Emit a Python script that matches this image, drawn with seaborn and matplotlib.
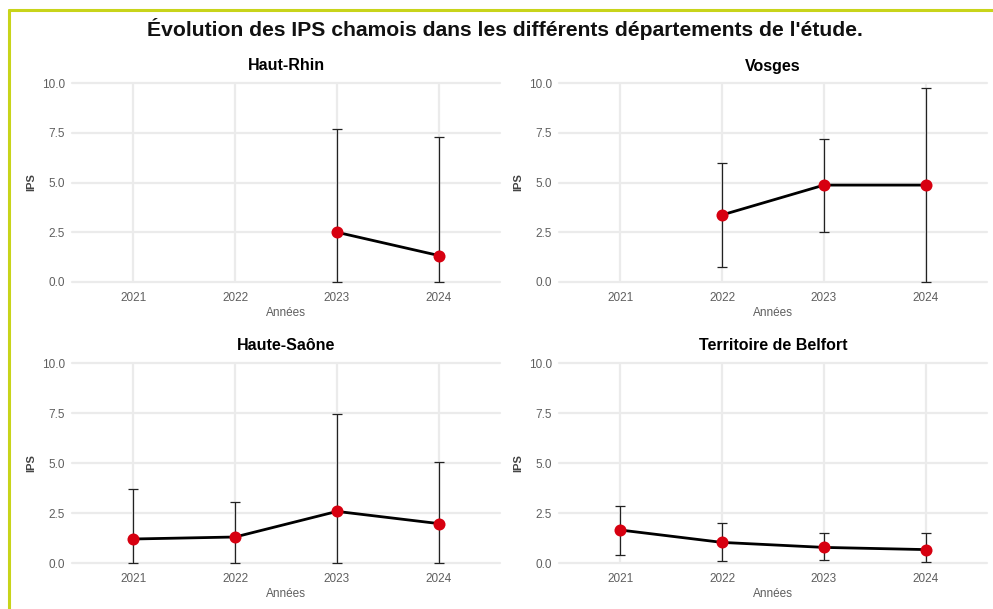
import numpy as np
import pandas as pd
import matplotlib
matplotlib.use("Agg")
import matplotlib.pyplot as plt
from matplotlib.lines import Line2D
import seaborn as sns

# values (NaN = no survey that year)
years = [2021, 2022, 2023, 2024]
departements = ["Haut-Rhin", "Vosges", "Haute-Saône", "Territoire de Belfort"]

ips_haut_rhin = [np.nan, np.nan, 2.5, 1.33]
low_haut_rhin = [np.nan, np.nan, 0.0, 0.0]
high_haut_rhin = [np.nan, np.nan, 7.7, 7.3]

ips_vosges = [np.nan, 3.37, 4.87, 4.87]
low_vosges = [np.nan, 0.73, 2.53, 0.0]
high_vosges = [np.nan, 6.0, 7.17, 9.73]

ips_haute_saone = [1.2, 1.3, 2.58, 1.97]
low_haute_saone = [0.0, 0.0, 0.0, 0.0]
high_haute_saone = [3.7, 3.03, 7.45, 5.03]

ips_belfort = [1.65, 1.03, 0.78, 0.67]
low_belfort = [0.42, 0.08, 0.17, 0.05]
high_belfort = [2.87, 2.0, 1.5, 1.5]

series = {
    "Haut-Rhin": (ips_haut_rhin, low_haut_rhin, high_haut_rhin),
    "Vosges": (ips_vosges, low_vosges, high_vosges),
    "Haute-Saône": (ips_haute_saone, low_haute_saone, high_haute_saone),
    "Territoire de Belfort": (ips_belfort, low_belfort, high_belfort),
}

rows = []
for dep in departements:
    ips, lo, hi = series[dep]
    for y, v, l, h in zip(years, ips, lo, hi):
        rows.append({"departement": dep, "annee": y, "ips": v, "low": l, "high": h})
df = pd.DataFrame(rows).dropna()

sns.set_theme(style="whitegrid")
plt.rcParams["font.family"] = ["Liberation Sans", "DejaVu Sans"]

GRID = "#ebebeb"
TICK = "#5f5f5f"
RED = "#d70010"

fig = plt.figure(figsize=(9.93, 6.09), dpi=100)

W, H = 993, 609
boxes = [(72, 83, 500, 282), (559, 83, 987, 282),
         (72, 363, 500, 563), (559, 363, 987, 563)]

for dep, (x0, y0, x1, y1) in zip(departements, boxes):
    ax = fig.add_axes([x0 / W, 1 - y1 / H, (x1 - x0) / W, (y1 - y0) / H])
    d = df[df["departement"] == dep]

    eb = ax.errorbar(d["annee"], d["ips"],
                     yerr=[d["ips"] - d["low"], d["high"] - d["ips"]],
                     fmt="none", ecolor="#222222", elinewidth=0.9, capsize=3.5,
                     capthick=0.9, zorder=2)
    for art in eb.lines[1] + eb.lines[2]:
        art.set_clip_on(False)
    sns.lineplot(data=d, x="annee", y="ips", color="black", linewidth=2,
                 ax=ax, zorder=3)
    sns.scatterplot(data=d, x="annee", y="ips", color=RED, s=75,
                    edgecolor=RED, linewidth=0, ax=ax, zorder=4)

    ax.set_xlim(2020.4, 2024.6)
    ax.set_ylim(0, 10)
    ax.set_xticks(years)
    ax.set_xticklabels([str(y) for y in years])
    ax.set_yticks([0, 2.5, 5, 7.5, 10])
    ax.set_yticklabels(["0.0", "2.5", "5.0", "7.5", "10.0"])
    ax.grid(True, color=GRID, linewidth=1.6)
    for gl in ax.get_ygridlines():
        gl.set_clip_on(False)
    for s in ax.spines.values():
        s.set_visible(False)
    ax.tick_params(axis="x", length=0, labelsize=8.5, labelcolor=TICK, pad=7.5)
    ax.tick_params(axis="y", length=0, labelsize=8.5, labelcolor=TICK, pad=5)
    ax.set_xlabel("Années", fontsize=8.5, color=TICK, labelpad=2)
    ax.set_ylabel("IPS", fontsize=8, color="#444444", fontweight="bold", labelpad=4)
    ax.set_title(dep, fontsize=11.5, fontweight="bold", color="black", pad=9)

fig.suptitle("Évolution des IPS chamois dans les différents départements de l'étude.",
             fontsize=15.2, fontweight="bold", color="#111111", x=0.508, y=0.97)

# frame of the original document
fig.add_artist(Line2D([9 / W, 1], [1 - 10 / H, 1 - 10 / H], color="#c8d41a",
                      linewidth=2.2, transform=fig.transFigure))
fig.add_artist(Line2D([9 / W, 9 / W], [0, 1 - 10 / H], color="#c8d41a",
                      linewidth=2.2, transform=fig.transFigure))

fig.savefig("out.png", dpi=100)
